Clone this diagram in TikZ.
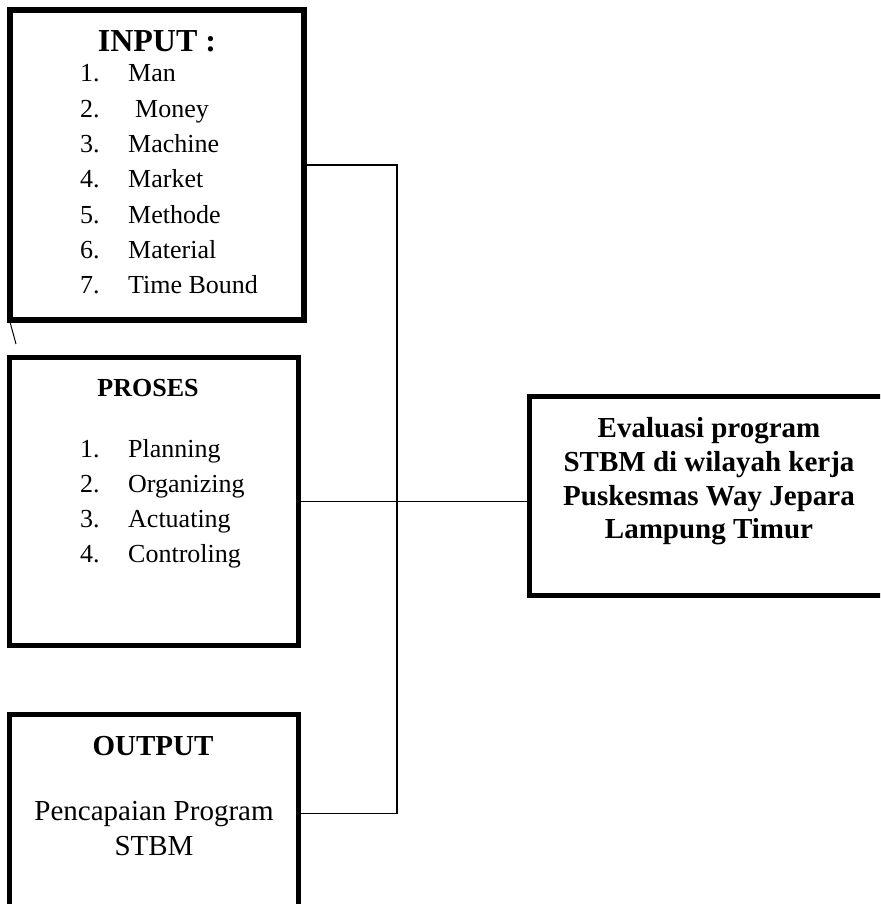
\documentclass[tikz,border=0pt]{standalone}
\usepackage{fontspec}
\setmainfont{Liberation Serif}
\begin{document}
\begin{tikzpicture}[x=1pt,y=-1pt,
  box/.style={draw=black,line width=5.5pt,rectangle,inner sep=0pt,fill=white},
  conn/.style={draw=black,line width=1.6pt},
  item/.style={anchor=base west,inner sep=0pt,font=\fontsize{26}{30}\selectfont},
  ttl/.style={anchor=base,inner sep=0pt,font=\fontsize{#1}{#1}\selectfont\bfseries},
  txt/.style={anchor=base,inner sep=0pt,font=\fontsize{29}{30}\selectfont}]
\useasboundingbox (0,0) rectangle (880,904);
\clip (0,0) rectangle (880,904);
\fill[white] (0,0) rectangle (880,904);
% boxes
\node[box,minimum width=294pt,minimum height=310pt] (input) at (157,165) {};
\node[box,minimum width=289pt,minimum height=288pt] (proses) at (154,501.5) {};
\node[box,minimum width=289pt,minimum height=198pt] (output) at (154,813.5) {};
\node[box,minimum width=359pt,minimum height=199pt] (eval) at (709,496) {};
% connectors
\coordinate (bustop) at (397,165);
\coordinate (busbot) at (397,813.5);
\draw[conn] (input.east) -- (bustop) -- (busbot) -- (output.east);
\draw[conn] (proses.east) -- (proses.east -| eval.west);
\coordinate (s1) at (10,322);
\coordinate (s2) at (16,344);
\draw[line width=1pt] (s1) -- (s2);
% INPUT text
\node[ttl=32] (ti) at (157,52) {INPUT :};
\foreach \n/\t/\y/\dx in {1/Man/82/0,2/Money/118/7,3/Machine/153/0,4/Market/188/0,5/Methode/223/0,6/Material/258/0,7/Time Bound/293/0}{
  \node[item] (in\n) at (80,\y) {\n.};
  \node[item] (it\n) at (128+\dx,\y) {\t};
}
% PROSES text
\node[ttl=26] (tp) at (148,396) {PROSES};
\foreach \n/\t/\y in {1/Planning/457,2/Organizing/492,3/Actuating/527,4/Controling/562}{
  \node[item] (pn\n) at (80,\y) {\n.};
  \node[item] (pt\n) at (128,\y) {\t};
}
% OUTPUT text
\node[ttl=29] (to) at (153,755) {OUTPUT};
\node[txt] (o1) at (154,820) {Pencapaian Program};
\node[txt] (o2) at (154,855) {STBM};
% Evaluation text
\node[ttl=29] (e1) at (709,437) {Evaluasi program};
\node[ttl=29] (e2) at (709,471) {STBM di wilayah kerja};
\node[ttl=29] (e3) at (709,505) {Puskesmas Way Jepara};
\node[ttl=29] (e4) at (709,538) {Lampung Timur};
\end{tikzpicture}
\end{document}
